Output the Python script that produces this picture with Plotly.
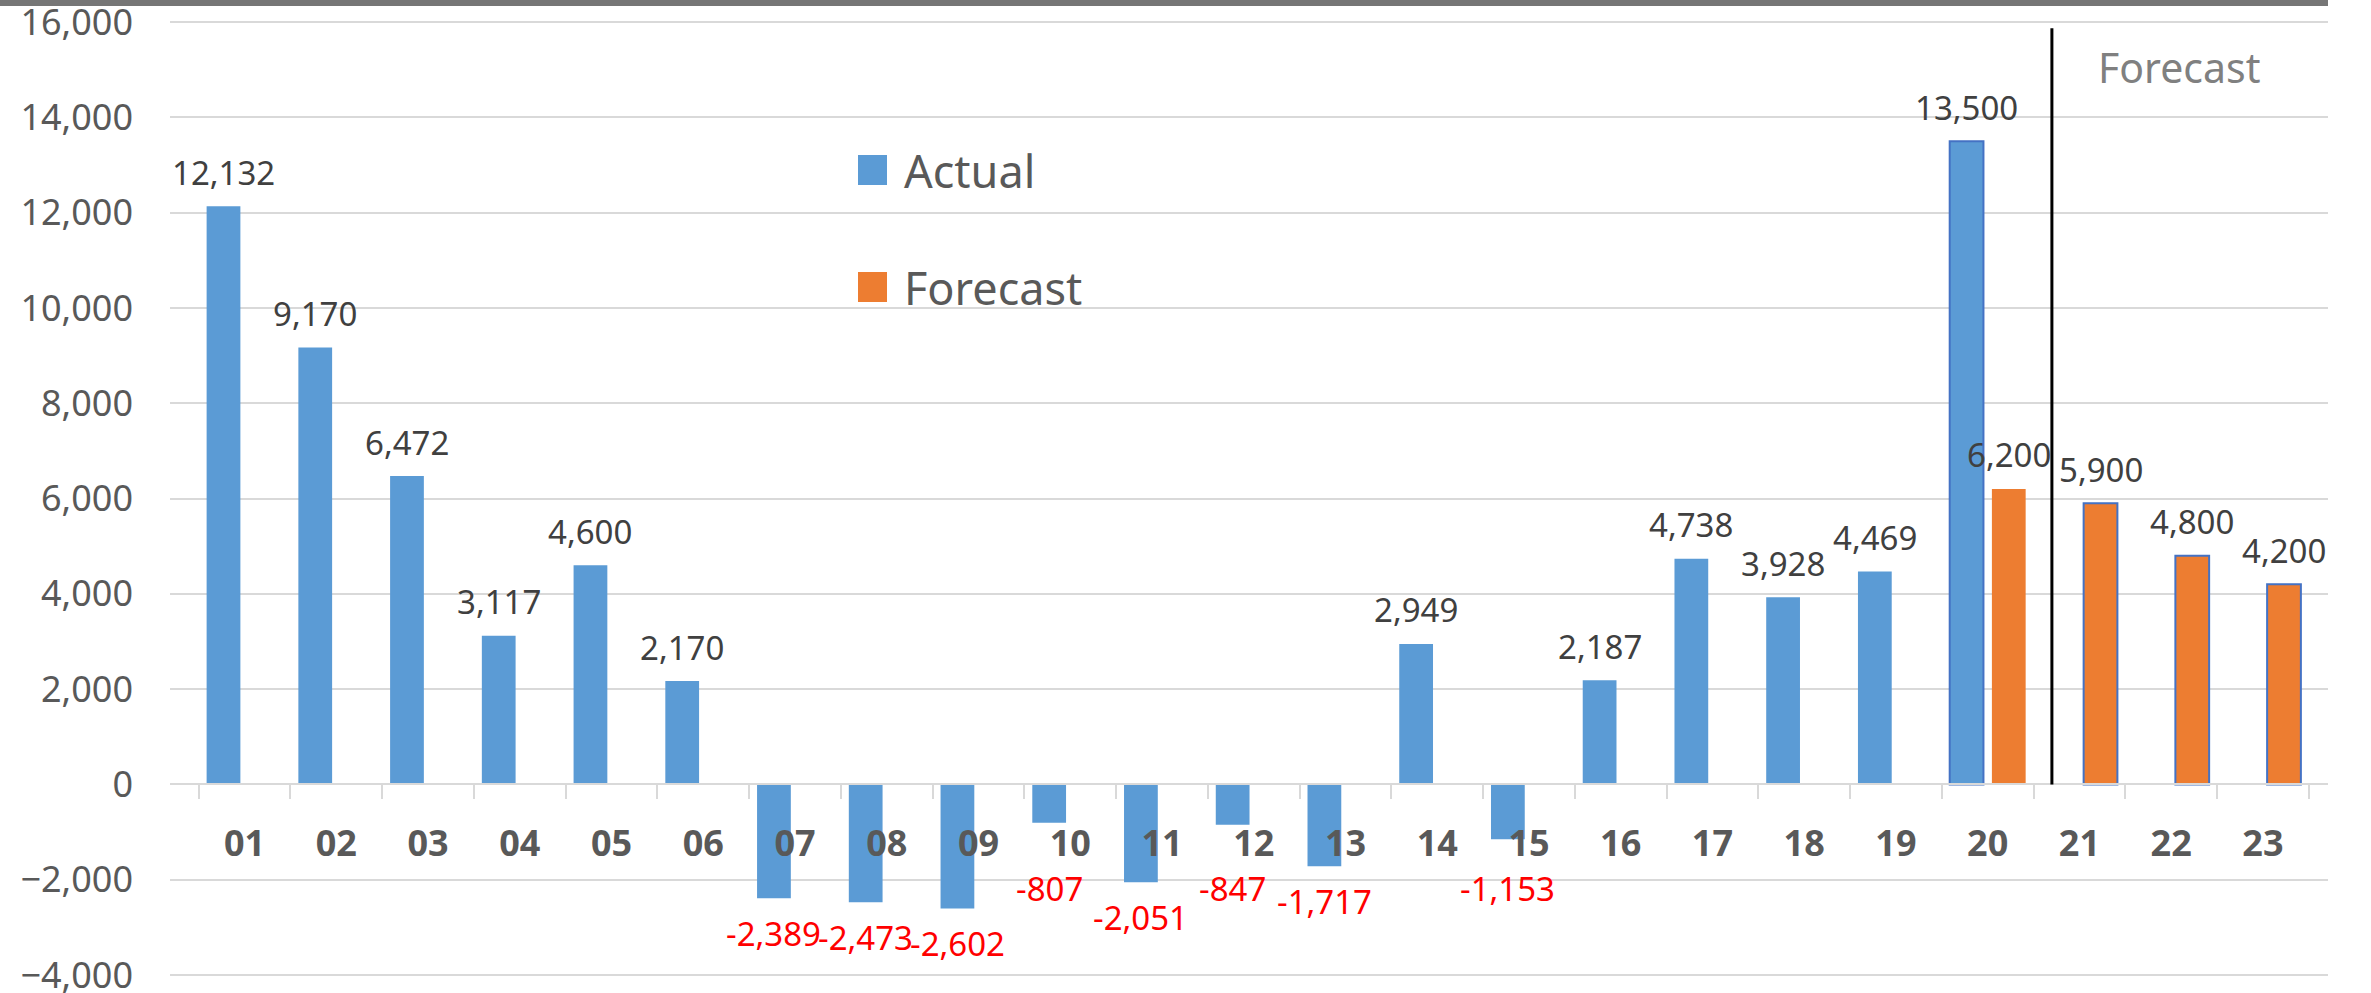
import plotly.graph_objects as go

# ---- data ----
periods = [f"{i:02d}" for i in range(1, 24)]
actual = [12132, 9170, 6472, 3117, 4600, 2170, -2389, -2473, -2602, -807,
          -2051, -847, -1717, 2949, -1153, 2187, 4738, 3928, 4469, 13500,
          None, None, None]
forecast = [None] * 19 + [6200, 5900, 4800, 4200]

# ---- layout geometry (pixels) ----
W_PX, H_PX = 2371, 993
L, R = 170, 2328          # left / right edge of the plotting area
Y_TOP_PX, Y_BOT_PX = 22, 975   # pixel rows of 16,000 and -4,000
Y_MIN, Y_MAX = -4000, 16000
PAD_PX = 2                # small headroom so the end gridlines are drawn
UNITS_PER_PX = (Y_MAX - Y_MIN) / (Y_BOT_PX - Y_TOP_PX)
PAD_U = PAD_PX * UNITS_PER_PX
T, B = Y_TOP_PX - PAD_PX, Y_BOT_PX + PAD_PX
PW, PH = R - L, B - T
LO, HI = Y_MIN - PAD_U, Y_MAX + PAD_U


def px_x(p):
    return (p - L) / PW


def px_y(p):
    return (B - p) / PH


BLUE = "#5B9BD5"
ORANGE = "#ED7D31"
EDGE = "#4472C4"
GRID = "#D9D9D9"
TXT = "#595959"
FONT = "Noto Sans"

BARGAP = 0.08
half_slot = (1 - BARGAP) / 4  # centre offset of each bar within its category

last_actual = max(i for i, v in enumerate(actual) if v is not None)
first_fc_only = last_actual + 1

act_line_w = [2 if i == last_actual else 0 for i in range(len(periods))]
fc_line_w = [2 if i >= first_fc_only else 0 for i in range(len(periods))]

fig = go.Figure()
fig.add_trace(go.Bar(
    x=periods, y=actual, name="Actual",
    marker=dict(color=BLUE, line=dict(color=EDGE, width=act_line_w)),
    showlegend=False, hoverinfo="x+y",
))
fig.add_trace(go.Bar(
    x=periods, y=forecast, name="Forecast",
    marker=dict(color=ORANGE, line=dict(color=EDGE, width=fc_line_w)),
    showlegend=False, hoverinfo="x+y",
))

annotations = []
# value labels: positive above the bar, negative (red) below it
NEG_SHIFT_PX = 35
NEG_FLOOR = -1450  # keeps labels of short negative bars clear of the category labels
for series, dx in ((actual, -half_slot), (forecast, half_slot)):
    for i, v in enumerate(series):
        if v is None:
            continue
        if v >= 0:
            annotations.append(dict(
                x=i + dx, y=v, xref="x", yref="y", text=f"{v:,}",
                showarrow=False, yanchor="middle", xanchor="center", yshift=34,
                font=dict(family=FONT, size=33, color="#404040"),
            ))
        else:
            annotations.append(dict(
                x=i + dx, y=min(v, NEG_FLOOR), xref="x", yref="y", text=f"{v:,}",
                showarrow=False, yanchor="middle", xanchor="center", yshift=-NEG_SHIFT_PX,
                font=dict(family=FONT, size=33, color="#FF0000"),
            ))

# legend drawn by hand with large swatches
legend_items = [("Actual", BLUE, 155), ("Forecast", ORANGE, 272)]
shapes = []
for name, col, top in legend_items:
    shapes.append(dict(type="rect", xref="paper", yref="paper",
                       x0=px_x(858), x1=px_x(887), y0=px_y(top + 30), y1=px_y(top),
                       fillcolor=col, line=dict(width=0)))
    annotations.append(dict(x=px_x(902), y=px_y(top + 15), xref="paper", yref="paper",
                            text=name, showarrow=False, xanchor="left", yanchor="middle",
                            font=dict(family=FONT, size=45, color=TXT)))

# divider between actual and forecast periods
shapes.append(dict(type="line", xref="x", yref="y", x0=19.7, x1=19.7, y0=0, y1=15870,
                   line=dict(color="black", width=3)))
annotations.append(dict(x=px_x(2096), y=px_y(67), xref="paper", yref="paper",
                        text="Forecast", showarrow=False, xanchor="left", yanchor="middle",
                        font=dict(family=FONT, size=41, color="#808080")))

# frame strip along the top
shapes.append(dict(type="rect", xref="paper", yref="paper",
                   x0=px_x(0), x1=px_x(2328), y0=px_y(6), y1=px_y(0),
                   fillcolor="#767676", line=dict(width=0), layer="above"))

fig.update_layout(
    width=W_PX, height=H_PX,
    margin=dict(l=L, r=W_PX - R, t=T, b=H_PX - B, pad=0, autoexpand=False),
    paper_bgcolor="white", plot_bgcolor="white",
    barmode="group", bargap=BARGAP, bargroupgap=0.2,
    showlegend=False,
    shapes=shapes, annotations=annotations,
    xaxis=dict(
        type="category", anchor="free", position=(0 - LO) / (HI - LO),
        showline=True, linecolor=GRID, linewidth=2, automargin=False,
        ticks="outside", tickson="boundaries", ticklen=14, tickwidth=2, tickcolor=GRID,
        showgrid=False, zeroline=False, ticklabelstandoff=27,
        tickfont=dict(family=FONT, size=36, color=TXT, weight="bold"),
    ),
    yaxis=dict(
        range=[LO, HI], tick0=0, dtick=2000, tickformat=",", automargin=False,
        showgrid=True, gridcolor=GRID, gridwidth=2, zeroline=False,
        showline=False, ticks="", ticklabelstandoff=36, ticklabeloverflow="allow",
        tickfont=dict(family=FONT, size=36, color=TXT),
    ),
)

fig.write_html("out.html")
